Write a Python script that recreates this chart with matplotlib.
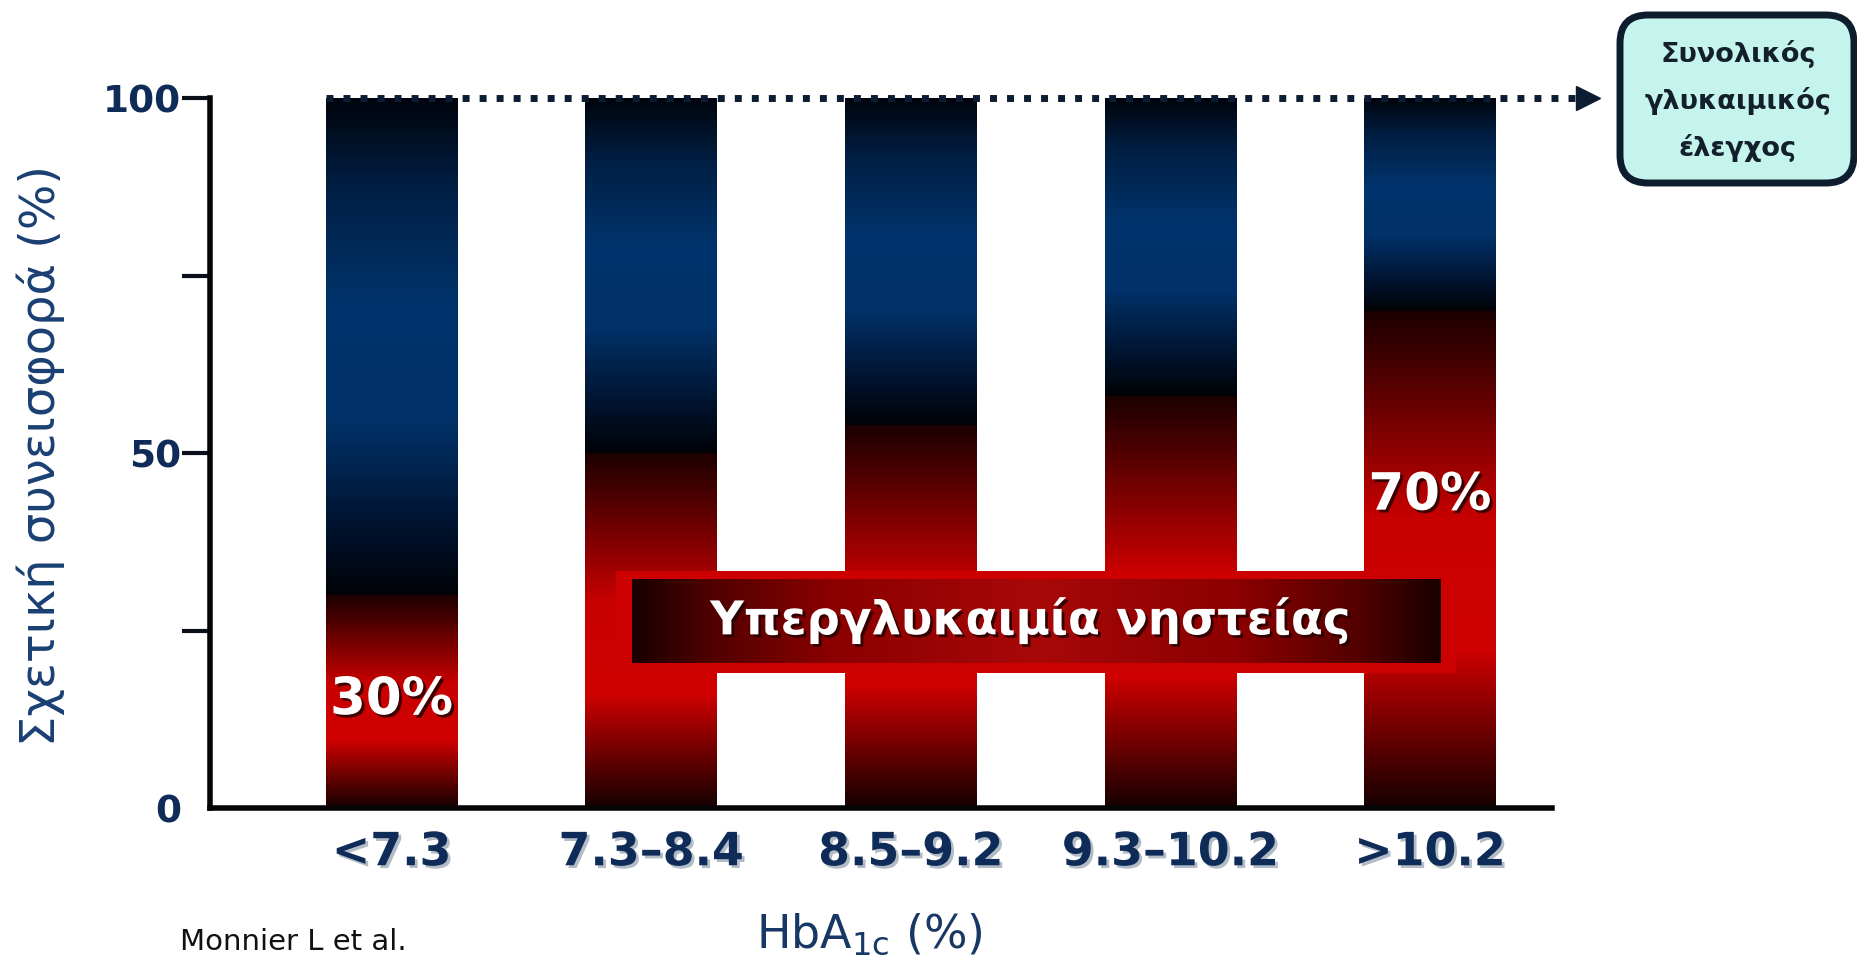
import numpy as np
import matplotlib
matplotlib.use("Agg")
import matplotlib.pyplot as plt
from matplotlib.colors import LinearSegmentedColormap
from matplotlib.patches import FancyBboxPatch, Rectangle
import matplotlib.patheffects as pe

# ---- data -------------------------------------------------------------
categories = ["<7.3", "7.3–8.4", "8.5–9.2", "9.3–10.2", ">10.2"]
fasting_share = [30, 50, 54, 58, 70]          # fasting hyperglycaemia (%)
total_share = [100, 100, 100, 100, 100]       # overall glycaemic control (%)
postprandial_share = [t - f for t, f in zip(total_share, fasting_share)]
y_major = [0, 50, 100]
y_minor = [25, 75]

NAVY = "#0e2c57"

# ---- figure -----------------------------------------------------------
fig = plt.figure(figsize=(18.58, 9.63), dpi=100, facecolor="white")
ax = fig.add_axes([0.1130, 0.1609, 0.7223, 0.7373])
ax.set_xlim(-0.70, 4.47)
ax.set_ylim(0, 100)

x = np.arange(len(categories))
bar_w = 0.507

red_cmap = LinearSegmentedColormap.from_list(
    "red_bar",
    [(0.0, "#1c0000"), (0.12, "#4a0000"), (0.42, "#c80000"),
     (0.68, "#d00000"), (0.88, "#5a0000"), (1.0, "#160000")])
blue_cmap = LinearSegmentedColormap.from_list(
    "blue_bar",
    [(0.0, "#00040c"), (0.18, "#001f44"), (0.42, "#00346c"),
     (0.65, "#003168"), (0.88, "#00112a"), (1.0, "#000306")])

grad = np.linspace(0, 1, 256).reshape(-1, 1)


def gradient_bars(bars, cmap):
    for patch in bars:
        x0, y0 = patch.get_x(), patch.get_y()
        w, h = patch.get_width(), patch.get_height()
        im = ax.imshow(grad, cmap=cmap, aspect="auto", origin="upper",
                       extent=[x0, x0 + w, y0, y0 + h], zorder=2,
                       interpolation="bilinear")
        im.set_clip_path(patch)


red_bars = ax.bar(x, fasting_share, width=bar_w, color="none",
                  edgecolor="none", zorder=1)
blue_bars = ax.bar(x, postprandial_share, bottom=fasting_share, width=bar_w,
                   color="none", edgecolor="none", zorder=1)
gradient_bars(red_bars, red_cmap)
gradient_bars(blue_bars, blue_cmap)
ax.set_xlim(-0.70, 4.47)
ax.set_ylim(0, 100)

# ---- "fasting hyperglycaemia" banner ---------------------------------
ax.add_patch(Rectangle((0.865, 19.0), 4.10 - 0.865, 33.4 - 19.0,
                       facecolor="#cc0000", edgecolor="none", zorder=3))
hgrad = np.linspace(0, 1, 512).reshape(1, -1)
banner_cmap = LinearSegmentedColormap.from_list(
    "banner",
    [(0.0, "#1a0000"), (0.10, "#520000"), (0.25, "#8c0000"),
     (0.5, "#a80808"), (0.75, "#8c0000"), (0.90, "#520000"),
     (1.0, "#1a0000")])
ax.imshow(hgrad, cmap=banner_cmap, aspect="auto",
          extent=[0.926, 4.04, 20.4, 32.1], zorder=4,
          interpolation="bilinear")
ax.set_xlim(-0.70, 4.47)
ax.set_ylim(0, 100)
ax.text(2.46, 26.4, "Υπεργλυκαιμία νηστείας", color="white",
        fontsize=33.5, fontweight="bold", ha="center", va="center", zorder=5,
        path_effects=[pe.withSimplePatchShadow(offset=(2, -2),
                                               shadow_rgbFace="#200000",
                                               alpha=0.8)])

# ---- value labels on the outer bars ------------------------------------
label_style = dict(color="white", fontsize=37, fontweight="bold",
                   ha="center", va="center", zorder=6,
                   path_effects=[pe.withSimplePatchShadow(
                       offset=(2, -2), shadow_rgbFace="#300000", alpha=0.9)])
ax.text(x[0], 15.2, f"{fasting_share[0]}%", **label_style)
ax.text(x[-1], 44.0, f"{fasting_share[-1]}%", **label_style)

# ---- dotted line to the overall-control box -----------------------------
tip_axes = 1.037
head_data = ax.transData.inverted().transform(
    ax.transAxes.transform((tip_axes - 0.010, 0)))[0]
ax.plot([x[0] - bar_w / 2, head_data - 0.03], [total_share[0]] * 2,
        color="#0c1c33", lw=5, linestyle=(0, (1, 1.45)),
        solid_capstyle="butt", dash_capstyle="butt",
        clip_on=False, zorder=7)
ax.plot([head_data], [total_share[0]], marker=">", markersize=17,
        color="#0c1c33", clip_on=False, zorder=7)

box = FancyBboxPatch((16.20, 7.80), 2.34, 1.68,
                     boxstyle="round,pad=0,rounding_size=0.28",
                     transform=fig.dpi_scale_trans, facecolor="#c4f4ec",
                     edgecolor="#0d1d2e", linewidth=5, clip_on=False)
fig.patches.append(box)
fig.text(17.38, 8.62, "Συνολικός\nγλυκαιμικός\nέλεγχος",
         transform=fig.dpi_scale_trans, ha="center", va="center",
         fontsize=19.5, fontweight="bold", color="#13202c", linespacing=1.85)

# ---- axes styling ------------------------------------------------------
for side in ("top", "right"):
    ax.spines[side].set_visible(False)
for side in ("left", "bottom"):
    ax.spines[side].set_linewidth(4)
    ax.spines[side].set_color("#050505")
    ax.spines[side].set_zorder(8)

ax.set_yticks(y_major)
ax.set_yticks(y_minor, minor=True)
ax.set_yticklabels([str(v) for v in y_major])
ax.tick_params(axis="y", which="both", direction="out", length=20, width=3,
               color="#0a0f1a", pad=1, labelsize=27, labelcolor=NAVY)
for lbl in ax.get_yticklabels():
    lbl.set_fontweight("bold")
ax.yaxis.get_major_ticks()[0].tick1line.set_visible(False)

ax.set_xticks(x)
ax.set_xticklabels(categories)
ax.tick_params(axis="x", length=0, pad=16, labelsize=33, labelcolor=NAVY)
for lbl in ax.get_xticklabels():
    lbl.set_fontweight("bold")
    lbl.set_path_effects([pe.withSimplePatchShadow(offset=(2, -2),
                                                   shadow_rgbFace="#8090a0",
                                                   alpha=0.6)])

fig.text(0.022, 0.527, "Σχετική συνεισφορά (%)", rotation=90,
         ha="center", va="center", fontsize=34.5, color="#1a4073")
fig.text(0.468, 0.016, r"HbA$_\mathregular{1c}$ (%)", ha="center",
         va="baseline", fontsize=33, color="#173764")
fig.text(0.097, 0.0135, "Monnier L et al.", ha="left", va="baseline",
         fontsize=21, color="#111111")

fig.savefig("out.png", dpi=100, facecolor="white")
